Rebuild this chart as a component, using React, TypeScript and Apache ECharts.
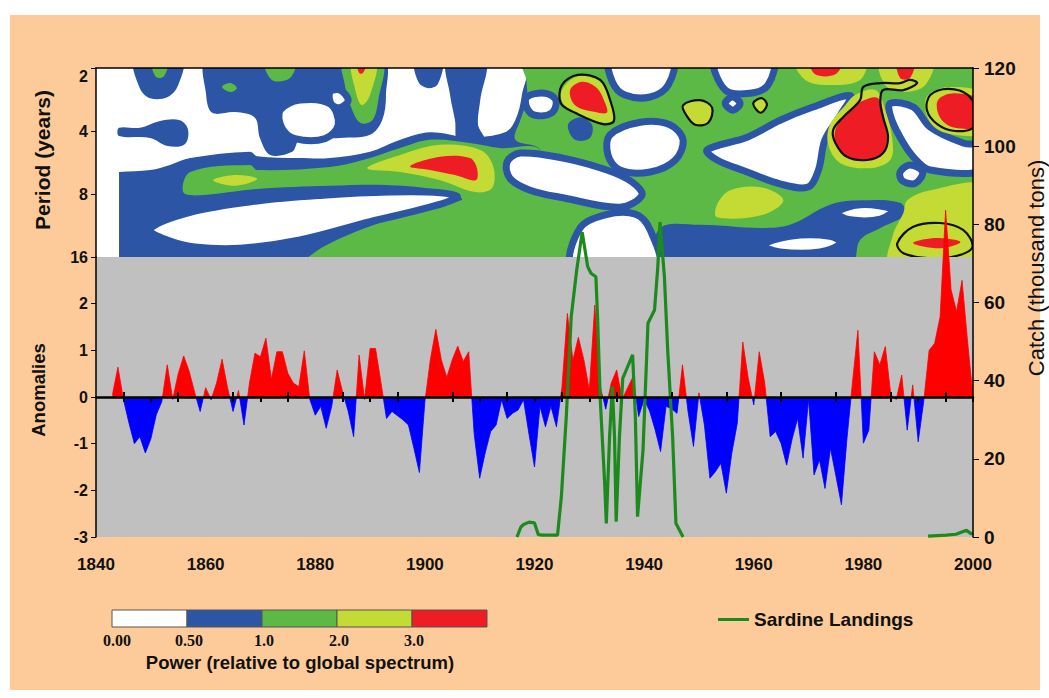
import React, { useEffect, useRef } from 'react';
import * as echarts from 'echarts';

type Pt = [number, number];
type Ring = Pt[];

// ---------- axes ----------
const START_YEAR = 1840;
const END_YEAR = 2000;
const PERIOD_OCT_MIN = 1; // log2(2 years)
const PERIOD_OCT_MAX = 4; // log2(16 years)
const CATCH_MAX = 120;

// ---------- PDO-style anomaly index, yearly ----------
const anomalyFirstYear = 1843;
const anomalies = [
  0.05, 0.64, -0.05, -0.55, -1.0, -0.85, -1.2, // 1843-1849
  -0.9, -0.38, -0.1, 0.69, -0.05, 0.5, 0.88, 0.55, 0.1, -0.31, // 1850s
  0.2, -0.06, 0.3, 0.81, 0.2, -0.31, 0.14, -0.6, 0.3, 0.94, // 1860s
  0.86, 1.26, 0.38, 0.97, 0.97, 0.51, 0.3, 0.22, 0.99, -0.05, // 1870s
  -0.39, -0.2, -0.67, -0.2, 0.58, 0.1, -0.3, -0.85, 0.9, -0.05, // 1880s
  1.04, 1.04, 0.3, -0.46, -0.31, -0.4, -0.49, -0.6, -1.1, -1.62, // 1890s
  -0.1, 0.8, 1.45, 0.8, 0.42, 0.8, 1.09, 0.76, 0.97, -0.8, // 1900s
  -1.74, -1.2, -0.74, -0.6, -0.06, -0.46, -0.35, -0.28, -0.06, -0.8, // 1910s
  -1.5, -0.2, -0.64, -0.2, -0.64, 0.2, 1.79, 0.79, 1.28, 0.8, // 1920s
  0.15, 1.97, 0.22, -0.26, 0.3, 0.58, -0.05, 0.2, 0.44, -0.42, // 1930s
  -0.05, -0.3, -0.7, -1.17, -0.2, -0.25, -0.35, 0.69, -0.3, -1.06, // 1940s
  0.09, -0.6, -1.74, -1.6, -1.42, -2.06, -1.2, -0.56, 1.18, 0.4, // 1950s
  -0.17, 0.97, 0.3, -0.85, -0.74, -1.0, -1.46, -0.9, -0.46, -1.31, // 1960s
  -0.05, -1.67, -1.35, -1.96, -1.1, -1.7, -2.31, -0.9, 0.3, 1.43, // 1970s
  -0.99, -0.71, 0.97, 0.69, 1.08, 0.05, -0.05, 0.47, -0.71, 0.26, // 1980s
  -0.96, -0.1, 1.0, 1.15, 1.72, 4.0, 2.3, 1.83, 2.5, 1.2, // 1990s
  0.0, // 2000
];

// ---------- sardine landings (thousand tons) ----------
const sardineYears = [
  1916.8, 1917.5, 1918, 1919, 1920, 1920.7, 1921.5, 1924.2, 1924.9, 1925.8,
  1926.7, 1927.7, 1928.7, 1929.7, 1930.3, 1931.2, 1931.5, 1932, 1932.8, 1933.1,
  1933.7, 1934.2, 1934.6, 1934.9, 1935.5, 1936.1, 1937.9, 1938.4, 1938.8, 1939.8,
  1940.7, 1941.9, 1942.5, 1942.9, 1943.7, 1944.3, 1945.2, 1945.8, 1947.1, 1970,
  1991.8, 1995.1, 1996.9, 1998.8, 1999.7, 2000,
];
const sardineCatch: (number | null)[] = [
  0, 2.5, 3.2, 3.8, 3.6, 0.6, 0.5, 0.5, 10.3, 30.8,
  56.4, 68.3, 78, 69.2, 67.5, 66.6, 56.4, 35.1, 13.8, 3.5,
  25.7, 38.5, 25.7, 3.9, 25.7, 40.6, 46.6, 30.8, 5.2, 22.3,
  54.7, 58.1, 69.2, 80.6, 66.6, 47.8, 25.7, 3.5, 0, null,
  0.2, 0.5, 0.7, 1.7, 0.8, 1.0,
];

// tick marks along the zero line
const zeroTicksUp = [1845, 1855, 1865, 1875, 1885, 1895, 1905, 1915, 1925, 1935, 1945, 1955, 1965, 1975, 1985, 1995];
const zeroTicksDown = [1845, 1850, 1855, 1865, 1870, 1875, 1885, 1890, 1895, 1905, 1910, 1915, 1920, 1925, 1930, 1935, 1955, 1965, 1975, 1985, 1990, 1995, 2000];

// ---------- wavelet power legend ----------
const powerColors = ['#FFFFFF', '#2C55A6', '#5DB946', '#C4DA35', '#EE1D25'];
const powerTickLabels = ['0.00', '0.50', '1.0', '2.0', '3.0'];
const [WHITE, BLUE, GREEN, YELLOW, RED] = powerColors;

// ---------- wavelet power contours: [year, log2(period)] ----------
const blueBase: Ring[] = [[[1844.2, 0.9], [2001, 0.9], [2001, 4.1], [1844.2, 4.1]]];

const openWhite: Ring[] = [
  [[1842.6, 0.87], [1918.1, 0.87], [1917.7, 1.43], [1916.5, 1.83], [1914.6, 2.02], [1908.2, 2.1], [1900.9, 2.02], [1895.5, 2.14], [1890.0, 2.33], [1882.7, 2.43], [1877.2, 2.43], [1869.4, 2.4], [1868.1, 2.33], [1857.2, 2.43], [1853.5, 2.54], [1849.9, 2.62], [1844.2, 2.65], [1842.6, 2.65]],
];

const blueIslands: Ring[] = [
  [[1847.1, 0.87], [1855.7, 0.87], [1855.0, 1.27], [1853.1, 1.46], [1849.9, 1.48], [1848.0, 1.32]],
  [[1844.2, 1.95], [1848.0, 1.95], [1851.7, 1.84], [1855.3, 1.83], [1856.8, 1.98], [1856.2, 2.21], [1853.1, 2.24], [1849.9, 2.11], [1844.2, 2.08]],
  [[1860.4, 0.87], [1892.2, 0.87], [1892.9, 1.43], [1892.2, 1.83], [1890.0, 2.06], [1884.5, 2.11], [1877.2, 2.14], [1875.8, 2.33], [1871.8, 2.38], [1869.9, 2.11], [1869.0, 1.79], [1865.4, 1.7], [1861.2, 1.71], [1860.1, 1.43]],
  [[1898.2, 0.87], [1903.1, 0.87], [1902.4, 1.25], [1900.6, 1.32], [1898.8, 1.22]],
  [[1904.1, 0.87], [1911.0, 0.87], [1910.1, 1.51], [1909.7, 1.9], [1910.8, 2.14], [1906.1, 2.17], [1905.5, 1.83], [1904.6, 1.43]],
];

const greenPatches: Ring[] = [
  [[1850.2, 0.87], [1853.1, 0.87], [1852.4, 1.13], [1850.9, 1.14]],
  [[1855.9, 2.97], [1857.2, 2.65], [1868.1, 2.54], [1869.4, 2.62], [1882.7, 2.57], [1888.7, 2.46], [1895.5, 2.27], [1900.9, 2.14], [1908.2, 2.19], [1913.7, 2.27], [1921.0, 2.3], [1921.9, 3.1], [1921.9, 4.13], [1878.1, 4.13], [1881.4, 3.84], [1893.6, 3.4], [1903.7, 3.16], [1906.8, 3.08], [1902.8, 2.94], [1893.6, 2.86], [1882.7, 2.87], [1869.4, 2.92], [1859.0, 3.02]],
  [[1917.9, 0.87], [2001.3, 0.87], [2001.3, 4.13], [1921.9, 4.13], [1921.9, 3.1], [1921.0, 2.3], [1916.5, 2.14], [1917.4, 1.83], [1918.6, 1.51], [1918.5, 1.19]],
  [[1885.1, 0.87], [1892.2, 0.87], [1891.5, 1.51], [1890.4, 1.83], [1888.2, 1.87], [1886.4, 1.59], [1885.4, 1.27]],
  [[1863.0, 1.3], [1864.5, 1.24], [1865.7, 1.32], [1864.5, 1.38]],
  [[1870.8, 0.87], [1876.3, 0.87], [1875.4, 1.16], [1872.1, 1.19]],
];

const blueSpots: Ring[] = [
  [[1942.4, 4.13], [1942.9, 3.54], [1950.2, 3.49], [1961.2, 3.54], [1966.6, 3.49], [1973.9, 3.17], [1979.4, 3.1], [1986.7, 3.14], [1987.6, 3.33], [1983.1, 3.54], [1979.4, 3.73], [1977.6, 4.13]],
  [[1926.1, 1.9], [1928.3, 1.78], [1930.5, 1.9], [1930.1, 2.11], [1927.4, 2.14]],
];

const whiteHoles: Ring[] = [
  [[1882.7, 1.38], [1884.5, 1.35], [1886.0, 1.51], [1884.5, 1.63], [1882.9, 1.57]],
  [[1873.6, 1.67], [1877.2, 1.51], [1882.7, 1.57], [1884.2, 1.9], [1881.8, 2.12], [1876.3, 2.12], [1873.9, 1.95]],
  [[1849.8, 3.56], [1857.2, 3.29], [1869.4, 3.11], [1881.4, 3.02], [1893.6, 2.97], [1902.8, 2.98], [1905.9, 3.05], [1900.9, 3.21], [1890.0, 3.44], [1877.2, 3.73], [1866.3, 3.86], [1858.0, 3.84], [1853.0, 3.73]],
  [[1918.6, 1.46], [1921.9, 1.4], [1923.9, 1.51], [1923.2, 1.71], [1920.1, 1.75], [1918.6, 1.63]],
  [[1915.0, 2.49], [1917.4, 2.35], [1925.2, 2.43], [1933.2, 2.62], [1937.8, 2.81], [1939.6, 3.02], [1935.6, 3.21], [1925.2, 3.06], [1919.2, 2.94], [1915.5, 2.75]],
  [[1927.0, 4.13], [1928.3, 3.54], [1932.9, 3.33], [1938.4, 3.32], [1941.1, 3.57], [1942.4, 4.13]],
  [[1933.8, 2.06], [1939.3, 1.86], [1944.7, 1.9], [1947.1, 2.14], [1945.7, 2.46], [1941.1, 2.65], [1935.6, 2.62], [1933.4, 2.38]],
  [[1933.8, 0.87], [1945.1, 0.87], [1944.4, 1.27], [1941.1, 1.46], [1936.5, 1.43], [1934.2, 1.22]],
  [[1953.0, 0.87], [1963.4, 0.87], [1962.6, 1.27], [1959.3, 1.4], [1954.8, 1.35]],
  [[1954.8, 1.56], [1956.1, 1.46], [1957.5, 1.56], [1956.2, 1.67]],
  [[1951.5, 2.3], [1958.8, 2.1], [1964.8, 1.83], [1970.8, 1.62], [1977.6, 1.44], [1975.8, 1.75], [1973.0, 2.14], [1971.8, 2.62], [1969.9, 2.89], [1964.8, 2.84], [1958.8, 2.65], [1953.3, 2.46]],
  [[1984.9, 1.56], [1989.1, 1.62], [1992.2, 1.94], [1998.2, 2.19], [2002.2, 2.25], [2002.2, 2.62], [1992.2, 2.62], [1989.1, 2.41], [1986.7, 2.1], [1984.9, 1.75]],
  [[1986.7, 2.65], [1988.5, 2.54], [1990.8, 2.65], [1989.5, 2.83], [1987.1, 2.79]],
  [[1975.2, 3.3], [1979.4, 3.17], [1985.4, 3.25], [1983.1, 3.4], [1977.6, 3.41]],
  [[1961.7, 3.81], [1966.6, 3.67], [1973.9, 3.67], [1975.9, 3.78], [1972.1, 3.92], [1964.8, 3.92]],
];

const ringSmall1: Ring = [[1947.1, 1.59], [1950.2, 1.51], [1952.4, 1.63], [1951.7, 1.87], [1949.3, 1.9], [1947.7, 1.75]];
const ringTiny: Ring = [[1959.9, 1.56], [1961.5, 1.48], [1962.4, 1.59], [1961.2, 1.71]];

const yellowPatches: Ring[] = [
  [[1861.4, 2.78], [1865.4, 2.7], [1869.4, 2.76], [1865.4, 2.87]],
  [[1889.5, 2.59], [1895.5, 2.38], [1902.8, 2.22], [1910.1, 2.3], [1912.4, 2.54], [1912.3, 2.9], [1909.2, 2.97], [1902.8, 2.78], [1895.5, 2.65]],
  [[1886.7, 0.87], [1891.1, 0.87], [1890.0, 1.43], [1888.5, 1.59], [1887.3, 1.35]],
  [[1925.0, 1.35], [1927.9, 1.13], [1932.0, 1.22], [1934.0, 1.54], [1934.3, 1.83], [1932.0, 1.86], [1927.4, 1.7], [1925.2, 1.56]],
  ringSmall1,
  ringTiny,
  [[1967.6, 0.87], [1980.3, 0.87], [1979.4, 1.19], [1973.9, 1.27], [1969.4, 1.19]],
  [[1983.1, 0.87], [1992.6, 0.87], [1991.3, 1.27], [1987.6, 1.38], [1984.0, 1.27]],
  [[1978.5, 1.43], [1982.2, 1.35], [1984.0, 1.67], [1985.3, 2.14], [1984.9, 2.46], [1981.2, 2.59], [1975.8, 2.51], [1973.6, 2.22], [1973.9, 1.9], [1976.7, 1.59]],
  [[1991.8, 1.43], [1995.8, 1.3], [2002.2, 1.43], [2002.2, 2.02], [1996.7, 2.06], [1993.1, 1.95], [1991.3, 1.67]],
  [[1953.3, 3.17], [1955.7, 2.94], [1961.7, 2.9], [1965.4, 3.1], [1961.7, 3.33], [1953.3, 3.37]],
  [[1988.0, 3.1], [1992.2, 2.94], [2002.2, 2.89], [2002.2, 4.13], [1984.9, 4.13], [1985.4, 3.65], [1987.3, 3.3]],
];

const redPatches: Ring[] = [
  [[1887.6, 0.87], [1889.5, 0.87], [1888.7, 1.08], [1888.0, 1.08]],
  [[1897.3, 2.56], [1902.8, 2.41], [1908.2, 2.43], [1909.5, 2.59], [1909.3, 2.78], [1905.5, 2.7], [1900.9, 2.62]],
  [[1926.5, 1.35], [1928.7, 1.22], [1931.4, 1.32], [1932.9, 1.56], [1933.2, 1.71], [1931.1, 1.7], [1927.4, 1.59]],
  [[1970.3, 0.87], [1976.1, 0.87], [1974.9, 1.1], [1971.2, 1.1]],
  [[1986.2, 0.87], [1989.3, 0.87], [1988.5, 1.16], [1986.7, 1.16]],
  [[1979.4, 1.54], [1982.7, 1.48], [1983.8, 1.83], [1984.3, 2.14], [1983.4, 2.38], [1980.3, 2.46], [1976.7, 2.41], [1974.9, 2.19], [1975.0, 1.95], [1977.2, 1.7]],
  [[1993.6, 1.51], [1996.7, 1.4], [2002.2, 1.54], [2002.2, 1.9], [1996.7, 1.95], [1994.0, 1.79]],
  [[1989.1, 3.78], [1993.1, 3.7], [1997.7, 3.76], [1994.0, 3.86]],
];

// 95% significance contours
const sigContours: Ring[] = [
  [[1925.0, 1.27], [1927.9, 1.11], [1932.0, 1.19], [1933.8, 1.51], [1934.5, 1.84], [1932.5, 1.89], [1927.4, 1.71], [1924.8, 1.56]],
  ringSmall1,
  ringTiny,
  [[1980.0, 1.3], [1983.1, 1.24], [1986.7, 1.24], [1988.5, 1.19], [1989.8, 1.24], [1987.3, 1.35], [1983.6, 1.35], [1983.1, 1.56], [1983.6, 1.78], [1984.5, 2.1], [1983.6, 2.35], [1980.7, 2.46], [1977.0, 2.41], [1974.9, 2.19], [1974.5, 1.98], [1976.3, 1.78], [1979.4, 1.51]],
  [[1992.2, 1.43], [1995.5, 1.33], [1999.1, 1.43], [2000.9, 1.75], [2000.0, 1.95], [1996.7, 2.0], [1993.6, 1.9], [1991.6, 1.67]],
  [[1986.2, 3.78], [1989.1, 3.52], [1994.0, 3.46], [1998.2, 3.57], [1999.9, 3.84], [1997.1, 3.98], [1992.2, 4.02], [1987.3, 3.94]],
];

interface Layer { rings: Ring[]; fill: string; stroke?: string; lineWidth?: number; smooth: number }
const contourLayers: Layer[] = [
  { rings: blueBase, fill: BLUE, smooth: 0 },
  { rings: openWhite, fill: WHITE, smooth: 0.35 },
  { rings: blueIslands, fill: BLUE, smooth: 0.35 },
  { rings: greenPatches, fill: GREEN, smooth: 0.35 },
  { rings: blueSpots, fill: BLUE, smooth: 0.35 },
  { rings: whiteHoles, fill: WHITE, stroke: BLUE, lineWidth: 7, smooth: 0.35 },
  { rings: yellowPatches, fill: YELLOW, smooth: 0.35 },
  { rings: redPatches, fill: RED, smooth: 0.35 },
  { rings: sigContours, fill: 'none', stroke: '#111111', lineWidth: 2.2, smooth: 0.35 },
];

const PEACH = '#FDCB99';
const FONT = '"Liberation Sans", Arial, sans-serif';
const SERIF = '"Liberation Serif", "Times New Roman", serif';

const GRID_LEFT = 96;
const GRID_WIDTH = 877;

function verticalTitle(text: string, x: number, y: number, font: string): any {
  return {
    type: 'text',
    x,
    y,
    rotation: Math.PI / 2,
    style: { text, fill: '#111', font, textAlign: 'center', textVerticalAlign: 'middle' },
    silent: true,
  };
}

function buildOption(): any {
  const anomalyData = anomalies.map((v, i) => [anomalyFirstYear + i, v]);
  const sardineData = sardineYears.map((y, i) => [y, sardineCatch[i] === null ? '-' : sardineCatch[i]]);

  const graphics: any[] = [
    verticalTitle('Period (years)', 42, 160, `bold 21px ${FONT}`),
    verticalTitle('Anomalies', 38, 390, `bold 18.5px ${FONT}`),
    verticalTitle('Catch (thousand tons)', 1036, 268, `22px ${FONT}`),
  ];

  // colour bar for the wavelet power
  const barX = 112;
  const barY = 610;
  const cellW = 75;
  const cellH = 17;
  powerColors.forEach((c, i) => {
    graphics.push({
      type: 'rect',
      shape: { x: barX + i * cellW, y: barY, width: cellW, height: cellH },
      style: { fill: c, stroke: '#555', lineWidth: 1 },
      silent: true,
    });
  });
  powerTickLabels.forEach((t, i) => {
    graphics.push({
      type: 'text',
      x: barX + i * cellW + (i === 0 ? 5 : 2),
      y: 640,
      style: { text: t, fill: '#111', font: `bold 16px ${SERIF}`, textAlign: 'center', textVerticalAlign: 'middle' },
      silent: true,
    });
  });
  graphics.push({
    type: 'text',
    x: 300,
    y: 662,
    style: { text: 'Power (relative to global spectrum)', fill: '#111', font: `bold 18.5px ${FONT}`, textAlign: 'center', textVerticalAlign: 'middle' },
    silent: true,
  });

  const axisText = { color: '#111', fontSize: 16, fontWeight: 'bold', fontFamily: FONT };
  const gridBase = { left: GRID_LEFT, width: GRID_WIDTH, outerBoundsMode: 'none', containLabel: false };

  return {
    animation: false,
    backgroundColor: 'transparent',
    textStyle: { fontFamily: FONT },
    graphic: graphics,
    legend: {
      data: ['Sardine Landings'],
      left: 713,
      top: 605,
      icon: 'rect',
      itemWidth: 31,
      itemHeight: 3,
      selectedMode: false,
      textStyle: { color: '#111', fontSize: 19, fontWeight: 'bold', fontFamily: FONT },
    },
    visualMap: [
      {
        type: 'piecewise',
        show: false,
        seriesIndex: 1,
        dimension: 1,
        pieces: [
          { gte: -10, lt: 0, color: '#0000FF' },
          { gte: 0, lte: 10, color: '#FF0000' },
        ],
      },
    ],
    grid: [
      { ...gridBase, top: 68, height: 189, show: true, backgroundColor: '#FFFFFF', borderWidth: 0 },
      { ...gridBase, top: 257, height: 280, show: true, backgroundColor: '#C0C0C0', borderWidth: 0 },
      { ...gridBase, top: 68, height: 469 },
      { ...gridBase, top: 257, height: 280 },
      { ...gridBase, top: 257, height: 280 },
    ],
    xAxis: [
      {
        gridIndex: 0, type: 'value', min: START_YEAR, max: END_YEAR, position: 'top', z: 10,
        axisLine: { show: true, onZero: false, lineStyle: { color: '#000', width: 1.5 } },
        axisTick: { show: false }, axisLabel: { show: false }, splitLine: { show: false },
      },
      {
        gridIndex: 1, type: 'value', min: START_YEAR, max: END_YEAR, interval: 20, position: 'bottom',
        axisLine: { show: false, onZero: false },
        axisTick: { show: false },
        axisLabel: { ...axisText, fontSize: 17, margin: 19, formatter: (v: number) => String(v) },
        splitLine: { show: false },
      },
      { gridIndex: 2, type: 'value', min: START_YEAR, max: END_YEAR, show: false },
      {
        gridIndex: 3, type: 'value', min: START_YEAR, max: END_YEAR, interval: 5, position: 'bottom', z: 10,
        axisLine: { show: true, onZero: true, lineStyle: { color: '#000', width: 2.5 } },
        axisTick: { show: true, length: 5, customValues: zeroTicksDown, lineStyle: { color: '#000', width: 2 } },
        axisLabel: { show: false }, splitLine: { show: false },
      },
      {
        gridIndex: 4, type: 'value', min: START_YEAR, max: END_YEAR, interval: 5, position: 'top', z: 10,
        axisLine: { show: false, onZero: true },
        axisTick: { show: true, length: 5, customValues: zeroTicksUp, lineStyle: { color: '#000', width: 2 } },
        axisLabel: { show: false }, splitLine: { show: false },
      },
    ],
    yAxis: [
      {
        gridIndex: 0, type: 'value', min: PERIOD_OCT_MIN, max: PERIOD_OCT_MAX, interval: 1, inverse: true, position: 'left', z: 10,
        axisLine: { show: true, onZero: false, lineStyle: { color: '#000', width: 1.5 } },
        axisTick: { show: true, length: 5, lineStyle: { color: '#000' } },
        axisLabel: { ...axisText, margin: 8, verticalAlignMinLabel: 'top', formatter: (v: number) => String(Math.pow(2, v)) },
        splitLine: { show: false },
      },
      {
        gridIndex: 1, type: 'value', min: -3, max: 3, interval: 1, position: 'left', z: 10,
        axisLine: { show: true, onZero: false, lineStyle: { color: '#000', width: 1.5 } },
        axisTick: { show: true, length: 5, lineStyle: { color: '#000' } },
        axisLabel: { ...axisText, margin: 8, formatter: (v: number) => (v === 3 ? '' : String(v)) },
        splitLine: { show: false },
      },
      {
        gridIndex: 2, type: 'value', min: 0, max: CATCH_MAX, interval: 20, position: 'right', z: 10,
        axisLine: { show: true, onZero: false, lineStyle: { color: '#000', width: 1.5 } },
        axisTick: { show: true, length: 6, lineStyle: { color: '#000' } },
        axisLabel: { ...axisText, fontSize: 19, margin: 11 },
        splitLine: { show: false },
      },
      { gridIndex: 3, type: 'value', min: -3, max: 3, show: false, axisLine: { onZero: false } },
      { gridIndex: 4, type: 'value', min: -3, max: 3, show: false, axisLine: { onZero: false } },
    ],
    series: [
      {
        type: 'custom',
        name: 'Wavelet power',
        coordinateSystem: 'cartesian2d',
        xAxisIndex: 0,
        yAxisIndex: 0,
        silent: true,
        z: 1,
        data: [[START_YEAR, PERIOD_OCT_MIN]],
        encode: { x: 0, y: 1 },
        renderItem: (_params: any, api: any) => {
          const tl = api.coord([START_YEAR, PERIOD_OCT_MIN]);
          const br = api.coord([END_YEAR, PERIOD_OCT_MAX]);
          const children: any[] = [];
          contourLayers.forEach((layer) => {
            layer.rings.forEach((ring) => {
              children.push({
                type: 'polygon',
                shape: { points: ring.map((p) => api.coord(p)), smooth: layer.smooth },
                style: {
                  fill: layer.fill,
                  stroke: layer.stroke || 'none',
                  lineWidth: layer.lineWidth || 0,
                  lineJoin: 'round',
                },
              });
            });
          });
          return {
            type: 'group',
            children,
            clipPath: {
              type: 'rect',
              shape: {
                x: Math.min(tl[0], br[0]),
                y: Math.min(tl[1], br[1]),
                width: Math.abs(br[0] - tl[0]),
                height: Math.abs(br[1] - tl[1]),
              },
            },
          };
        },
      },
      {
        type: 'line',
        name: 'Anomalies',
        xAxisIndex: 1,
        yAxisIndex: 1,
        data: anomalyData,
        showSymbol: false,
        clip: false,
        z: 3,
        lineStyle: { width: 0.8 },
        areaStyle: { opacity: 1 },
        silent: true,
      },
      {
        type: 'line',
        name: 'Sardine Landings',
        xAxisIndex: 2,
        yAxisIndex: 2,
        data: sardineData,
        showSymbol: false,
        z: 4,
        color: '#1C8A1C',
        lineStyle: { color: '#1C8A1C', width: 3.2 },
        silent: true,
      },
    ],
  };
}

export default function App() {
  const ref = useRef<HTMLDivElement>(null);
  useEffect(() => {
    if (!ref.current) return;
    const chart = echarts.init(ref.current, undefined, { renderer: 'svg' });
    chart.setOption(buildOption());
    return () => chart.dispose();
  }, []);
  return (
    <div style={{ position: 'fixed', left: 0, top: 0, width: 1049, height: 698, background: '#FFFFFF' }}>
      <div style={{ position: 'absolute', left: 10, top: 15, width: 1030, height: 675, background: PEACH }} />
      <div ref={ref} style={{ position: 'absolute', left: 0, top: 0, width: 1049, height: 698 }} />
    </div>
  );
}
